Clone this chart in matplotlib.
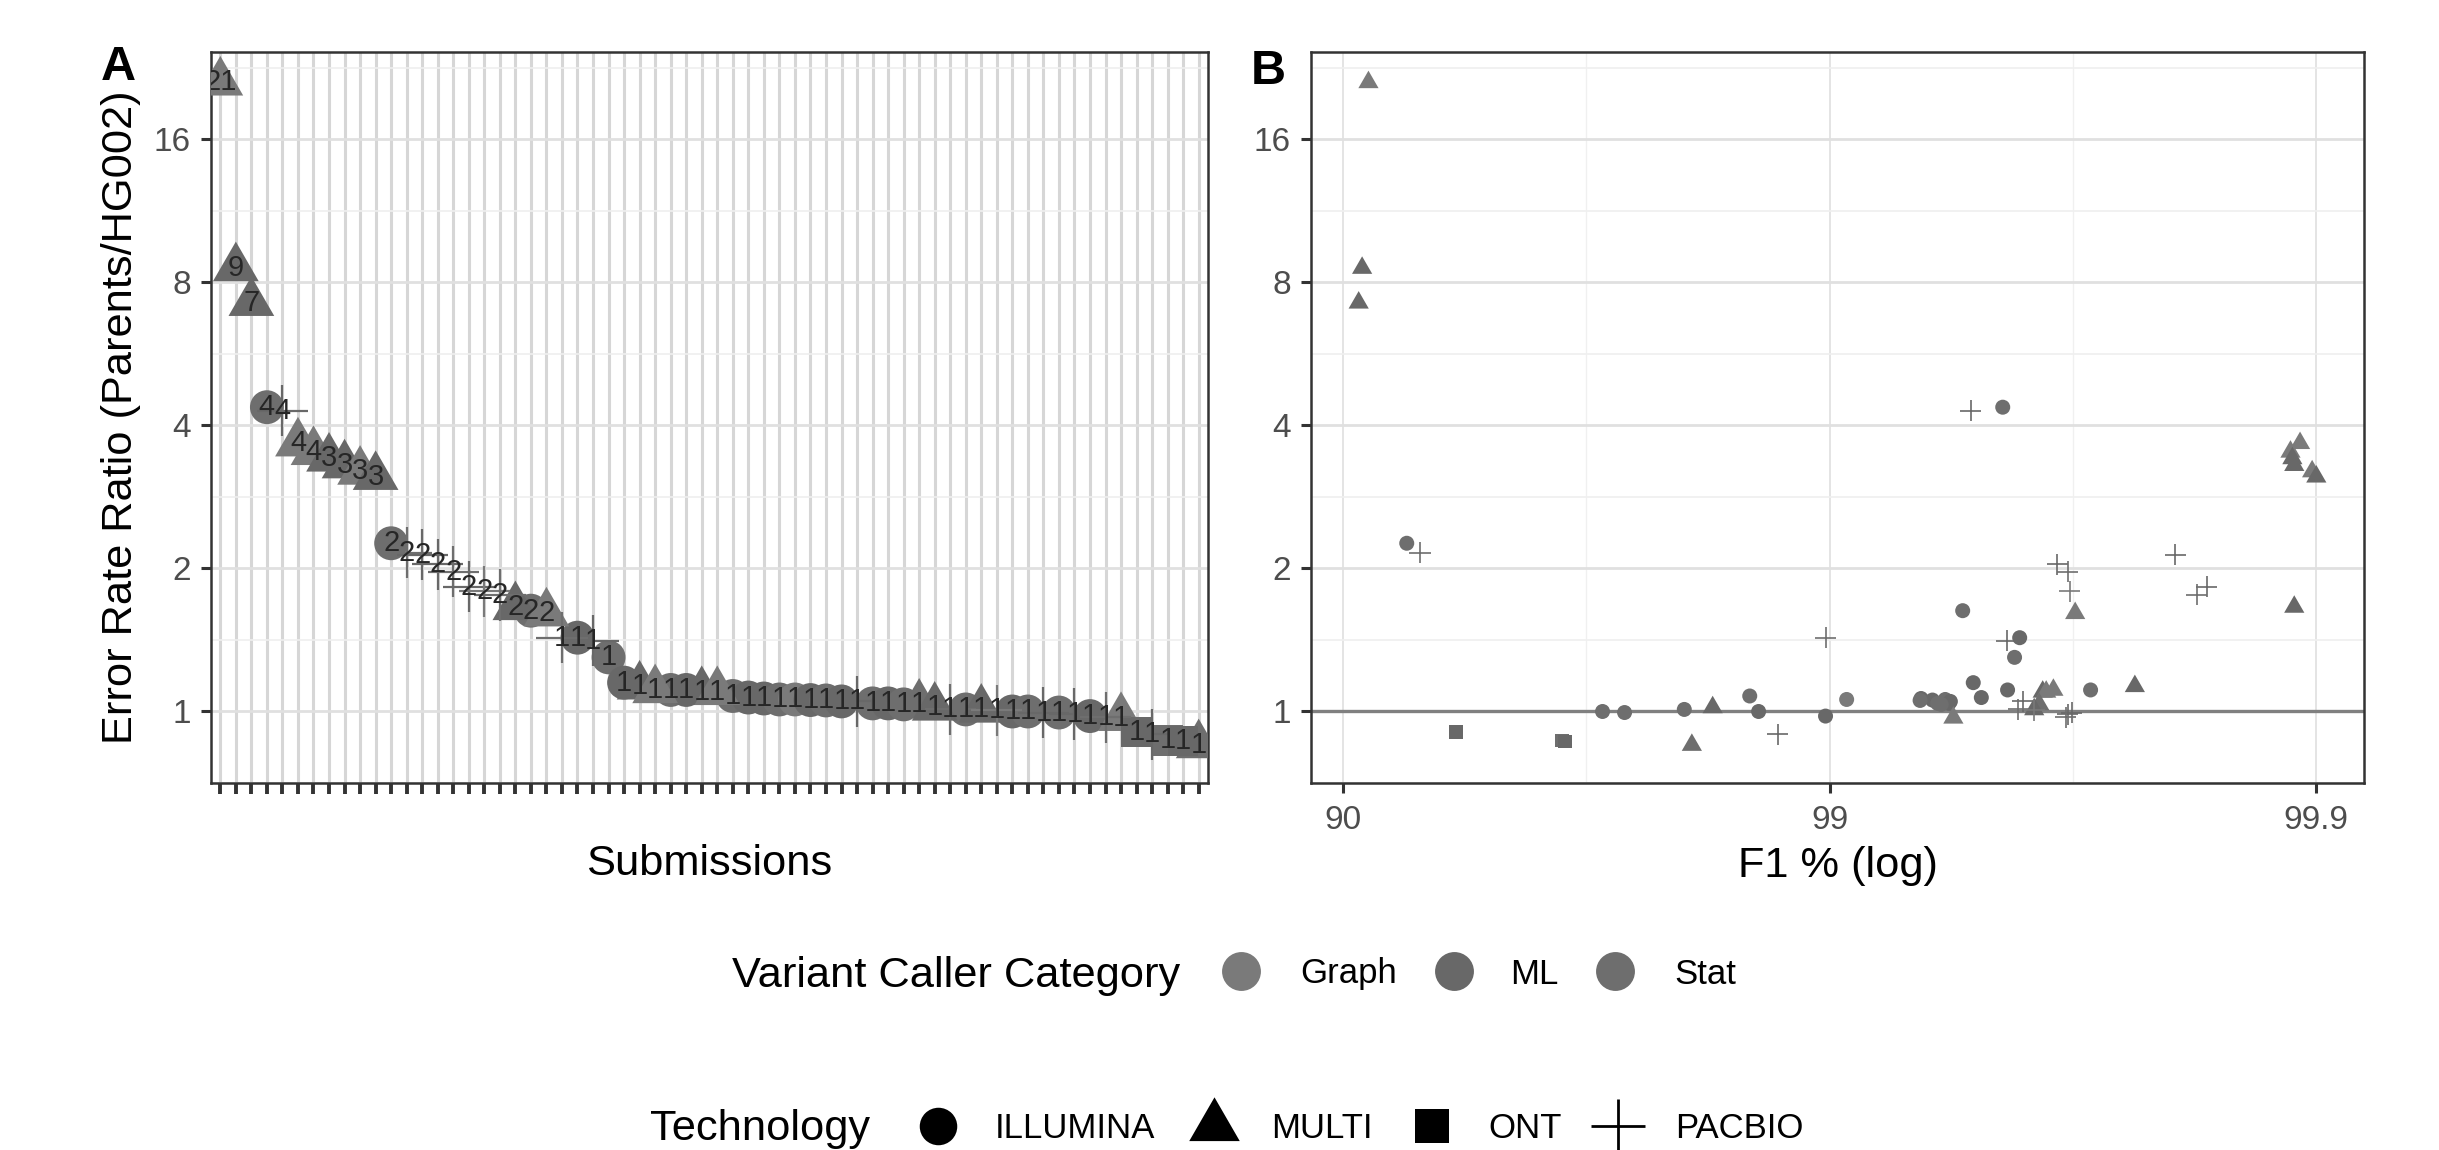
import numpy as np
import matplotlib
matplotlib.use('Agg')
import matplotlib.pyplot as plt
from matplotlib.path import Path
from matplotlib.lines import Line2D

plt.rcParams['font.family'] = ['Liberation Sans', 'DejaVu Sans']

# one row per submission, in panel A order (sorted by error rate ratio)
ratio = [21.1, 8.58, 7.25, 4.37, 4.30, 3.67, 3.52, 3.41, 3.30, 3.20, 3.12, 2.26, 2.16, 2.14, 2.04, 1.97,
         1.83, 1.79, 1.76, 1.66, 1.63, 1.61, 1.43, 1.43, 1.41, 1.30, 1.15, 1.13, 1.11, 1.11, 1.11, 1.10,
         1.10, 1.078, 1.07, 1.065, 1.06, 1.06, 1.057, 1.055, 1.05, 1.05, 1.04, 1.04, 1.035, 1.035, 1.02, 1.01,
         1.01, 1.01, 1.005, 1.0, 1.0, 0.995, 0.995, 0.987, 0.978, 0.972, 0.97, 0.905, 0.895, 0.87, 0.866, 0.85]
f1 = [91.13, 90.86, 90.71, 99.559, 99.487, 99.892, 99.887, 99.888, 99.889, 99.898, 99.900, 92.60, 93.05, 99.805, 99.659, 99.676,
      99.832, 99.679, 99.824, 99.889, 99.467, 99.687, 98.98, 99.593, 99.567, 99.583, 99.493, 99.764, 99.653, 99.709, 99.569, 99.635,
      99.641, 98.54, 99.512, 99.351, 99.421, 99.077, 99.385, 99.348, 99.435, 99.599, 99.40, 99.431, 99.41, 99.629, 98.26, 99.590,
      98.01, 99.62, 99.62, 98.60, 97.07, 99.682, 97.36, 99.676, 98.98, 99.673, 99.443, 94.14, 98.72, 96.45, 96.50, 98.08]
tech = ['MULTI', 'MULTI', 'MULTI', 'ILLUMINA', 'PACBIO', 'MULTI', 'MULTI', 'MULTI', 'MULTI', 'MULTI', 'MULTI', 'ILLUMINA',
        'PACBIO', 'PACBIO', 'PACBIO', 'PACBIO', 'PACBIO', 'PACBIO', 'PACBIO', 'MULTI', 'ILLUMINA', 'MULTI', 'PACBIO', 'ILLUMINA',
        'PACBIO', 'ILLUMINA', 'ILLUMINA', 'MULTI', 'MULTI', 'ILLUMINA', 'ILLUMINA', 'MULTI', 'MULTI', 'ILLUMINA', 'ILLUMINA', 'ILLUMINA',
        'ILLUMINA', 'ILLUMINA', 'ILLUMINA', 'ILLUMINA', 'ILLUMINA', 'PACBIO', 'ILLUMINA', 'ILLUMINA', 'ILLUMINA', 'MULTI', 'MULTI', 'PACBIO',
        'ILLUMINA', 'MULTI', 'PACBIO', 'ILLUMINA', 'ILLUMINA', 'PACBIO', 'ILLUMINA', 'PACBIO', 'ILLUMINA', 'PACBIO', 'MULTI', 'ONT',
        'PACBIO', 'ONT', 'ONT', 'MULTI']
category = ['Graph', 'ML', 'ML', 'Stat', 'ML', 'Graph', 'Graph', 'ML', 'ML', 'Graph', 'ML', 'Stat', 'Stat', 'ML', 'ML', 'Stat',
            'ML', 'Graph', 'Stat', 'ML', 'Stat', 'Graph', 'Stat', 'ML', 'ML', 'Stat', 'ML', 'ML', 'Graph', 'Stat', 'ML', 'ML',
            'Graph', 'Stat', 'ML', 'ML', 'Stat', 'Graph', 'ML', 'Stat', 'ML', 'ML', 'Stat', 'ML', 'Stat', 'Stat', 'ML', 'Stat',
            'Stat', 'ML', 'Graph', 'ML', 'Stat', 'ML', 'Stat', 'ML', 'ML', 'Stat', 'Graph', 'ML', 'ML', 'Stat', 'ML', 'Stat']

categories = ['Graph', 'ML', 'Stat']
technologies = ['ILLUMINA', 'MULTI', 'ONT', 'PACBIO']
y_breaks = [1, 2, 4, 8, 16]
f1_breaks = [90, 99, 99.9]

cat_colors = {'Graph': '#7a7a7a', 'ML': '#686868', 'Stat': '#6e6e6e'}

# R style triangle (centroid at the point)
tri = Path([(0, 1.555), (1.347, -0.778), (-1.347, -0.778), (0, 1.555)], closed=True)
tech_marker = {'ILLUMINA': 'o', 'MULTI': tri, 'ONT': 's', 'PACBIO': '+'}
size_A = {'ILLUMINA': 12.2, 'MULTI': 19.0, 'ONT': 11.0, 'PACBIO': 18.5}
size_B = {'ILLUMINA': 5.4, 'MULTI': 8.4, 'ONT': 4.8, 'PACBIO': 7.6}

W, H, DPI = 2439, 1150, 200
BORDER = '#333333'


def f1_fwd(f):
    return -np.log10(np.clip(1 - np.asarray(f, dtype=float) / 100.0, 1e-9, None))


def f1_inv(q):
    return 100.0 * (1 - 10.0 ** (-np.asarray(q, dtype=float)))


def style_axes(ax):
    for s in ax.spines.values():
        s.set_color(BORDER)
        s.set_linewidth(0.9)
    ax.set_yscale('log', base=2)
    ax.set_ylim(0.717, 24.5)
    ax.set_yticks(y_breaks, labels=[str(v) for v in y_breaks])
    ax.set_yticks([2 ** (k + 0.5) for k in range(-1, 5)], minor=True)
    ax.yaxis.set_minor_formatter(plt.NullFormatter())
    ax.tick_params(axis='both', which='major', length=3.5, width=1.1, color=BORDER,
                   labelsize=12, labelcolor='#4d4d4d')
    ax.tick_params(axis='y', which='major', pad=3.8)
    ax.tick_params(axis='both', which='minor', length=0)
    ax.grid(axis='y', which='major', color='#e0e0e0', lw=1.0, zorder=0)
    ax.grid(axis='y', which='minor', color='#efefef', lw=0.6, zorder=0)
    ax.set_axisbelow(True)


def scatter_by_tech(ax, xs, sizes, cross_lw):
    xs = np.asarray(xs, dtype=float)
    ys = np.asarray(ratio, dtype=float)
    for t in technologies:
        idx = [i for i in range(len(ratio)) if tech[i] == t]
        cols = [cat_colors[category[i]] for i in idx]
        if t == 'PACBIO':
            ax.scatter(xs[idx], ys[idx], s=sizes[t] ** 2, marker=tech_marker[t], c=cols,
                       linewidths=cross_lw, zorder=3)
        else:
            ax.scatter(xs[idx], ys[idx], s=sizes[t] ** 2, marker=tech_marker[t], c=cols,
                       linewidths=0, zorder=3)


fig = plt.figure(figsize=(W / DPI, H / DPI), dpi=DPI)
top, bottom = 51.5, 783
axA = fig.add_axes([211 / W, 1 - bottom / H, (1208 - 211) / W, (bottom - top) / H])
axB = fig.add_axes([1311 / W, 1 - bottom / H, (2364 - 1311) / W, (bottom - top) / H])

# ---- Panel A
n = len(ratio)
xpos = np.arange(n)
style_axes(axA)
axA.set_xlim(-0.6, n - 1 + 0.6)
axA.set_xticks(xpos, labels=[''] * n)
axA.tick_params(axis='x', which='major', length=4, width=1.4)
axA.grid(axis='x', which='major', color='#d6d6d6', lw=1.1, zorder=0)
scatter_by_tech(axA, xpos, size_A, 0.8)
for i in range(n):
    axA.text(xpos[i], ratio[i], str(int(round(ratio[i]))), ha='center', va='center',
             fontsize=10.5, color='#262626', clip_on=True, zorder=4)
axA.set_xlabel('Submissions', fontsize=15.6)
axA.xaxis.set_label_coords(0.5, (bottom - 864) / (bottom - top))
axA.xaxis.label.set_va('center')
axA.set_ylabel('Error Rate Ratio (Parents/HG002)', fontsize=15.6)
axA.yaxis.set_label_coords((121 - 211) / (1208 - 211), 0.5)
axA.yaxis.label.set_va('center')

# ---- Panel B
style_axes(axB)
axB.set_xscale('function', functions=(f1_fwd, f1_inv))
axB.set_xlim(f1_inv(0.934), f1_inv(3.098))
axB.set_xticks(f1_breaks, labels=['90', '99', '99.9'])
axB.set_xticks(f1_inv([1.5, 2.5]), minor=True)
axB.xaxis.set_minor_formatter(plt.NullFormatter())
axB.tick_params(axis='x', which='major', pad=4.5)
axB.tick_params(axis='both', which='minor', length=0)
axB.grid(axis='x', which='major', color='#e4e4e4', lw=0.7, zorder=0)
axB.grid(axis='x', which='minor', color='#f0f0f0', lw=0.5, zorder=0)
axB.axhline(1, color='#808080', lw=1.2, zorder=2)
scatter_by_tech(axB, f1, size_B, 0.6)
axB.set_xlabel('F1 % (log)', fontsize=15.6)
axB.xaxis.set_label_coords(0.5, (bottom - 866) / (bottom - top))
axB.xaxis.label.set_va('center')

# panel tags
fig.text(118 / W, 1 - 68 / H, 'A', fontsize=17.5, fontweight='bold', ha='center', va='center')
fig.text(1268 / W, 1 - 71 / H, 'B', fontsize=17.5, fontweight='bold', ha='center', va='center')


# ---- legends (title on the left, keys in one row)
def legend_row(title, title_x, y_mid, y_base_title, y_base_lab, keys):
    fig.text(title_x / W, 1 - y_base_title / H, title, fontsize=15.6, ha='left', va='baseline')
    for mk, ms, col, mx, lab, lx, lw in keys:
        fig.add_artist(Line2D([mx / W], [1 - y_mid / H], marker=mk, markersize=ms, color=col,
                              markeredgewidth=lw, linestyle='none', transform=fig.transFigure))
        fig.text(lx / W, 1 - y_base_lab / H, lab, fontsize=12.5, ha='left', va='baseline')


cat_keys = []
for c, mx, lx in zip(categories, [1241, 1454, 1615], [1300, 1510, 1674]):
    cat_keys.append(('o', 14, cat_colors[c], mx, c, lx, 0))
legend_row('Variant Caller Category', 732, 971, 987, 983.5, cat_keys)

leg_size = {'ILLUMINA': 13.5, 'MULTI': 21, 'ONT': 12.5, 'PACBIO': 19.5}
tech_keys = []
for t, mx, lx in zip(technologies, [938, 1214, 1432, 1618], [995, 1271, 1488, 1675]):
    tech_keys.append((tech_marker[t], leg_size[t], 'black', mx, t, lx, 1.0 if t == 'PACBIO' else 0))
legend_row('Technology', 650, 1126, 1140, 1138, tech_keys)

fig.savefig('out.png', dpi=DPI)
